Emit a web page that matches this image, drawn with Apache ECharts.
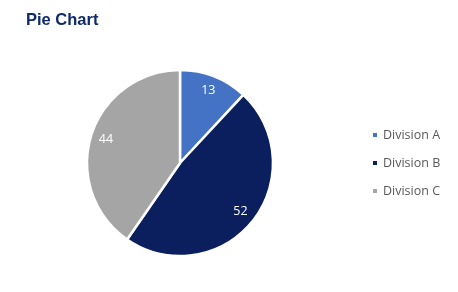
<!DOCTYPE html>
<html><head><meta charset="utf-8">
<script src="https://cdn.jsdelivr.net/npm/echarts@6/dist/echarts.min.js"></script>
<style>html,body{margin:0;padding:0;background:#fff}#c{width:458px;height:292px}</style>
</head><body><div id="c"></div>
<script>
const categories = ['Division A', 'Division B', 'Division C'];
const values = [13, 52, 44];
const colors = ['#4472C4', '#0B1F5F', '#A5A5A5'];
const titleText = 'Pie Chart';

const data = categories.map((n, i) => ({ name: n, value: values[i], itemStyle: { color: colors[i] } }));
const chart = echarts.init(document.getElementById('c'), null, { renderer: 'canvas' });
chart.setOption({
  animation: false,
  title: { text: titleText, left: 26, top: 12, padding: 0,
    textStyle: { fontFamily: 'Liberation Sans', fontWeight: 'bold', fontSize: 16.5, color: '#0E2A6B' } },
  legend: { orient: 'vertical', left: 371, top: 128, padding: 0, icon: 'rect', itemWidth: 6, itemHeight: 6, itemGap: 14,
    data: categories,
    textStyle: { fontFamily: 'Open Sans', fontSize: 12.5, color: '#595959', lineHeight: 14 } },
  series: [
    { type: 'pie', center: [180, 163], radius: 93, startAngle: 90, clockwise: true,
      itemStyle: { borderColor: '#fff', borderWidth: 2.5 },
      label: { show: false }, labelLine: { show: false }, emphasis: { disabled: true },
      data: data },
    { type: 'pie', center: [180, 163], radius: [56, 93], startAngle: 90, clockwise: true, silent: true,
      itemStyle: { color: 'rgba(0,0,0,0)' },
      label: { show: true, position: 'inside', formatter: '{c}', color: '#fff', fontSize: 12.5, fontFamily: 'Open Sans' },
      labelLine: { show: false }, emphasis: { disabled: true },
      data: categories.map((n, i) => ({ name: n, value: values[i], itemStyle: { color: 'rgba(0,0,0,0)' } })) }
  ]
});
</script></body></html>
